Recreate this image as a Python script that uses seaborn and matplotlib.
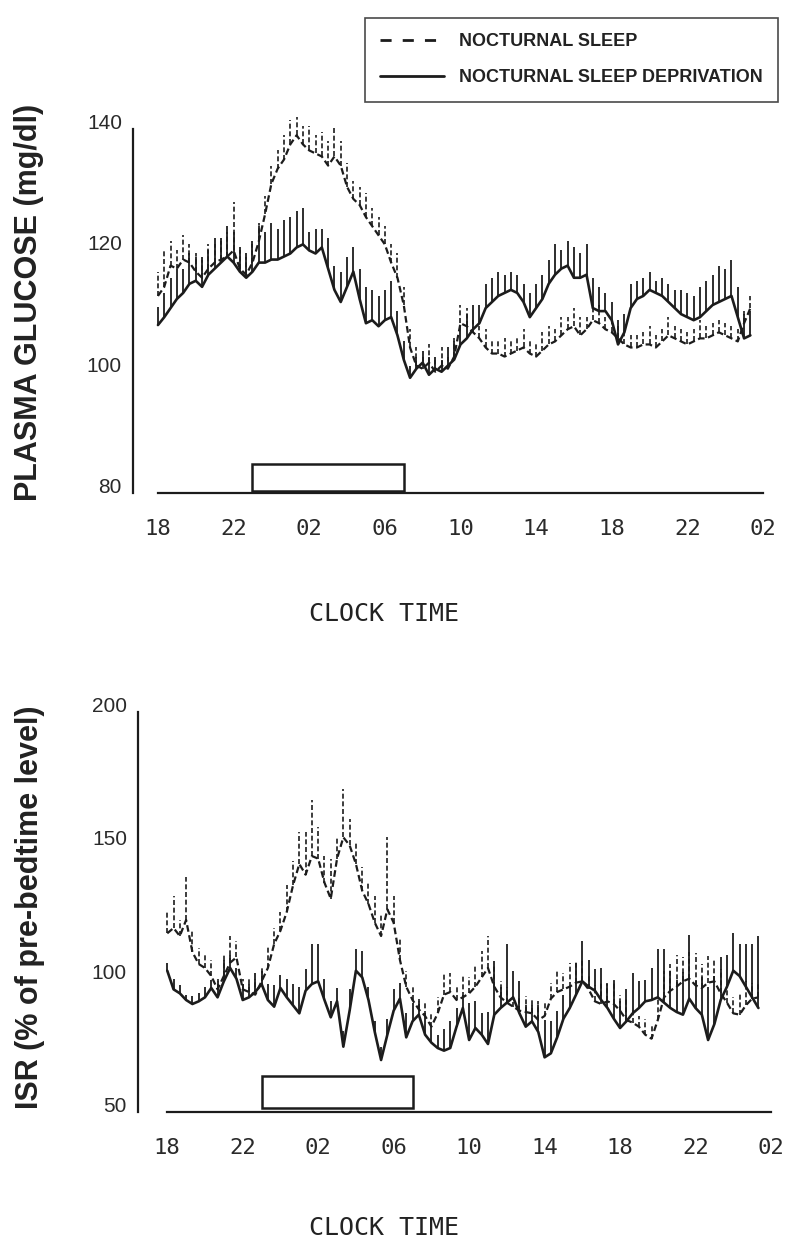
import numpy as np
import pandas as pd
import matplotlib
matplotlib.use('Agg')
import matplotlib.pyplot as plt
from matplotlib.lines import Line2D
from matplotlib.patches import Rectangle
import seaborn as sns

# sampling every 20 min from 18:00 (hours since 18:00)
step_min = 20
n_samples = 95

tick_hours = [0, 4, 8, 12, 16, 20, 24, 28, 32]
tick_labels = ['18', '22', '02', '06', '10', '14', '18', '22', '02']
bed_start, bed_end = 5, 13   # 23:00 - 07:00

# plasma glucose (mg/dl), nocturnal sleep deprivation (solid)
glu_dep = [107.7, 109, 110.5, 112, 113, 114.5,
           115, 114, 116, 117, 118, 119,
           118, 116.5, 115.5, 116.5, 118, 118,
           118.5, 118.5, 119, 119.5, 120.5, 121,
           120, 119.5, 120.5, 117, 113.5, 111.5,
           114, 116.5, 112, 108, 108.5, 107.5,
           108.5, 109, 106, 102, 99, 100.5,
           101.5, 99.5, 100.5, 100, 101, 102,
           104.5, 105.5, 107, 108, 110.5, 111.5,
           112.5, 113, 113.5, 113, 111.5, 109,
           110.5, 112, 114.5, 116, 117, 117.5,
           115.5, 115.5, 116, 110.5, 110, 110,
           108.5, 104.5, 106.5, 110.5, 112, 112.5,
           113.5, 113, 112.5, 111.5, 110.5, 109.5,
           109, 108.5, 109, 110, 111, 111.5,
           112, 112.5, 109, 105.5, 106]
glu_dep_sem = [3, 4, 5, 5, 4, 5,
               4, 5, 4, 5, 4, 5,
               5, 4, 4, 5, 6, 5,
               6, 5, 6, 6, 6, 6,
               3, 4, 3, 5, 4, 5,
               5, 4, 5, 6, 5, 5,
               5, 6, 4, 3, 2, 2,
               2, 3, 2, 2, 3, 3,
               3, 4, 4, 3, 4, 4,
               4, 3, 3, 3, 3, 4,
               4, 4, 4, 5, 3, 4,
               5, 4, 5, 5, 4, 3,
               3, 4, 3, 4, 3, 3,
               3, 2, 3, 3, 3, 4,
               4, 4, 5, 5, 5, 6,
               5, 6, 5, 4, 4]

# plasma glucose (mg/dl), nocturnal sleep (dashed)
glu_sleep = [112.5, 114, 117.5, 117, 118.5, 118,
             116.5, 115.5, 117, 118, 118.5, 119,
             120, 117, 116, 118, 121.5, 126,
             131, 133.5, 135, 137.5, 139, 137.5,
             136.5, 136, 135.5, 134, 135.5, 134,
             130.5, 128.5, 127.5, 125.5, 124, 122.5,
             121, 118, 115.5, 111, 104, 101,
             100.5, 101.5, 100, 101, 100.5, 102.5,
             108, 107.5, 106.5, 105.5, 104, 103,
             103, 102.5, 103, 103.5, 104, 103,
             102.5, 103.5, 104.5, 105, 106, 107,
             107.5, 106, 107, 108.5, 108, 107,
             106.5, 105.5, 104.5, 104, 104, 104.5,
             104.5, 104, 105, 106, 105.5, 105,
             104.5, 105, 105.5, 105.5, 106, 106.5,
             106, 105.5, 105, 108, 110.5]
glu_sleep_sem = [4, 6, 4, 3, 4, 3,
                 3, 3, 4, 3, 3, 4,
                 8, 3, 3, 3, 3, 3,
                 3, 3, 4, 4, 3, 3,
                 4, 3, 4, 4, 5, 4,
                 4, 3, 3, 4, 3, 3,
                 3, 3, 4, 3, 3, 3,
                 2, 3, 2, 3, 2, 3,
                 3, 3, 2, 2, 3, 2,
                 2, 3, 2, 2, 3, 2,
                 2, 3, 3, 2, 3, 2,
                 3, 3, 2, 2, 3, 2,
                 2, 2, 2, 2, 2, 2,
                 3, 2, 2, 3, 2, 2,
                 2, 2, 3, 2, 2, 2,
                 2, 2, 2, 2, 2]

# ISR (% of pre-bedtime level), sleep deprivation (solid)
isr_dep = [103, 96, 94.5, 92, 90.5, 91.5,
           93, 96.5, 93, 99, 104, 100,
           92, 93, 95, 98, 92, 89.5,
           96.5, 93, 90, 87, 95.5, 98,
           99, 92, 85.5, 91.5, 74.5, 88,
           103, 100.5, 92, 80, 69.5, 79,
           88, 92.5, 78, 84, 86.5, 79,
           76, 74, 73, 74, 82, 89,
           77, 81.5, 79, 75.5, 86.5, 89,
           91, 93, 87, 82, 84, 80,
           70.5, 72, 78, 85, 89, 94,
           99, 97, 95.5, 92, 89, 85,
           81.5, 84, 87, 89, 91.5, 92,
           93, 91, 89, 87.5, 86.5, 92.5,
           89, 86.5, 77, 83, 92, 97,
           103, 101, 97, 93, 89]
isr_dep_sem = [3, 4, 3, 2, 3, 3,
               4, 3, 6, 8, 5, 4,
               6, 5, 7, 5, 6, 8,
               5, 7, 8, 10, 8, 15,
               14, 8, 6, 5, 6, 8,
               8, 10, 5, 4, 5, 6,
               8, 6, 9, 7, 5, 8,
               6, 5, 8, 10, 7, 5,
               14, 10, 8, 12, 20, 8,
               22, 10, 12, 8, 6, 10,
               14, 12, 10, 9, 8, 12,
               15, 10, 8, 12, 9, 14,
               10, 12, 15, 10, 8, 12,
               18, 20, 14, 12, 16, 24,
               10, 14, 20, 18, 16, 12,
               14, 12, 16, 20, 27]

# ISR (% of pre-bedtime level), nocturnal sleep (dashed)
isr_sleep = [117, 119, 116, 122, 110, 105.5,
             104, 101, 96, 101, 106, 108,
             96, 95, 94, 99, 104, 113,
             118, 125, 135, 143, 139, 146,
             145, 136, 130, 145, 153, 150,
             143, 133, 128, 121, 116, 126,
             121, 107, 97, 92, 88.5, 86,
             82, 87, 94, 95, 92, 93,
             94.5, 97, 100.5, 104, 97, 93,
             91, 89.5, 88, 87.5, 87, 84.5,
             86, 92.5, 95, 96, 97, 98.5,
             99, 96, 91.5, 90.5, 91.5, 90.5,
             88, 84.5, 83.5, 82, 79, 77.5,
             84.5, 93, 95.5, 97, 99, 100,
             97.5, 96.5, 98.5, 99, 94.5, 91,
             87, 86.5, 90, 92.5, 93]
isr_sleep_sem = [8, 12, 6, 16, 8, 6,
                 5, 6, 4, 8, 10, 6,
                 4, 5, 6, 5, 8, 6,
                 7, 10, 9, 12, 16, 21,
                 12, 10, 15, 8, 18, 10,
                 8, 9, 8, 10, 8, 27,
                 10, 8, 6, 5, 4, 5,
                 5, 6, 8, 7, 5, 8,
                 6, 8, 10, 12, 8, 6,
                 6, 4, 5, 6, 5, 7,
                 5, 6, 8, 6, 9, 8,
                 8, 5, 6, 8, 7, 9,
                 6, 8, 5, 4, 6, 5,
                 8, 10, 10, 12, 9, 10,
                 12, 9, 10, 8, 9, 7,
                 6, 8, 9, 6, 5]

hours = np.arange(n_samples) * step_min / 60.0
ink = '#1c1c1c'
dash = (3, 1.6)

sns.set_style('white')
plt.rcParams['font.family'] = ['Liberation Sans', 'DejaVu Sans']


def panel(ax, sleep, sleep_sem, dep, dep_sem, ylo, yhi, ytop, yticks, box_lo, box_hi, xmin):
    df = pd.DataFrame({'time': np.concatenate([hours, hours]),
                       'value': np.concatenate([sleep, dep]),
                       'cond': ['sleep'] * n_samples + ['dep'] * n_samples})
    sns.lineplot(data=df[df.cond == 'dep'], x='time', y='value', color=ink,
                 linewidth=1.9, ax=ax, legend=False)
    sns.lineplot(data=df[df.cond == 'sleep'], x='time', y='value', color=ink,
                 linewidth=1.6, dashes=False, ax=ax, legend=False)
    ax.lines[-1].set_dashes(dash)
    # upward SEM bars
    ax.vlines(hours, dep, np.array(dep) + np.array(dep_sem), color=ink, lw=1.3)
    ax.vlines(hours, sleep, np.array(sleep) + np.array(sleep_sem), color=ink,
              lw=1.2, linestyles=[(0, dash)])
    # bedtime period
    ax.add_patch(Rectangle((bed_start, box_lo), bed_end - bed_start, box_hi - box_lo,
                           facecolor='white', edgecolor=ink, lw=1.8, clip_on=False, zorder=3))
    ax.set_xlim(xmin, 32)
    ax.set_ylim(ylo, ytop)
    sns.despine(ax=ax)
    ax.spines['left'].set_bounds(ylo, yhi)
    ax.spines['bottom'].set_bounds(0, 32)
    for s in ['left', 'bottom']:
        ax.spines[s].set_linewidth(1.6)
        ax.spines[s].set_color(ink)
    ax.set_xticks(tick_hours)
    ax.set_xticklabels(tick_labels, fontfamily='DejaVu Sans Mono', fontsize=16, color='#2a2a2a')
    ax.set_yticks(yticks)
    ax.set_yticklabels([str(v) for v in yticks], fontsize=15, color='#2a2a2a')
    for lab in ax.get_yticklabels():
        lab.set_va('baseline')
    ax.tick_params(axis='x', direction='out', length=14, width=1.6, color=ink, pad=5)
    ax.tick_params(axis='y', direction='out', length=8, width=1.4, color=ink, pad=0)
    ax.set_xlabel('')


fig = plt.figure(figsize=(8, 12.58), dpi=100)

ax1 = fig.add_axes([133 / 800, 1 - 493 / 1258, 630 / 800, 382 / 1258])
panel(ax1, glu_sleep, glu_sleep_sem, glu_dep, glu_dep_sem, 80, 140, 143,
      [80, 100, 120, 140], 80.3, 84.8, -1.32)
ax1.set_ylabel('PLASMA GLUCOSE (mg/dl)', fontsize=22, fontweight='bold', color='#222222')
ax1.yaxis.set_label_coords(44 / 800, 1 - 302 / 1258, transform=fig.transFigure)

ax2 = fig.add_axes([138 / 800, 1 - 1112 / 1258, 633 / 800, 400 / 1258])
panel(ax2, isr_sleep, isr_sleep_sem, isr_dep, isr_dep_sem, 50, 200, 200,
      [50, 100, 150, 200], 51.5, 63.5, -1.55)
ax2.set_ylabel('ISR (% of pre-bedtime level)', fontsize=22, fontweight='bold', color='#222222')
ax2.yaxis.set_label_coords(45 / 800, 1 - 907 / 1258, transform=fig.transFigure)

for yc in [614, 1228]:
    fig.text(384 / 800, 1 - yc / 1258, 'CLOCK TIME', fontfamily='DejaVu Sans Mono',
             fontsize=18, color='#222222', ha='center', va='center')

handles = [Line2D([0], [0], color=ink, lw=2, dashes=(4, 4)),
           Line2D([0], [0], color=ink, lw=2)]
leg = fig.legend(handles, ['NOCTURNAL SLEEP', 'NOCTURNAL SLEEP DEPRIVATION'],
                 loc='upper left', bbox_to_anchor=(365 / 800, 1 - 18 / 1258),
                 frameon=True, fancybox=False, borderaxespad=0, borderpad=0.85,
                 handlelength=3.5, handletextpad=0.85, labelspacing=1.05,
                 prop={'weight': 'bold', 'size': 13})
leg.get_frame().set_edgecolor(ink)
leg.get_frame().set_linewidth(1.2)
for txt in leg.get_texts():
    txt.set_color('#222222')

fig.savefig('out.png', dpi=100)
